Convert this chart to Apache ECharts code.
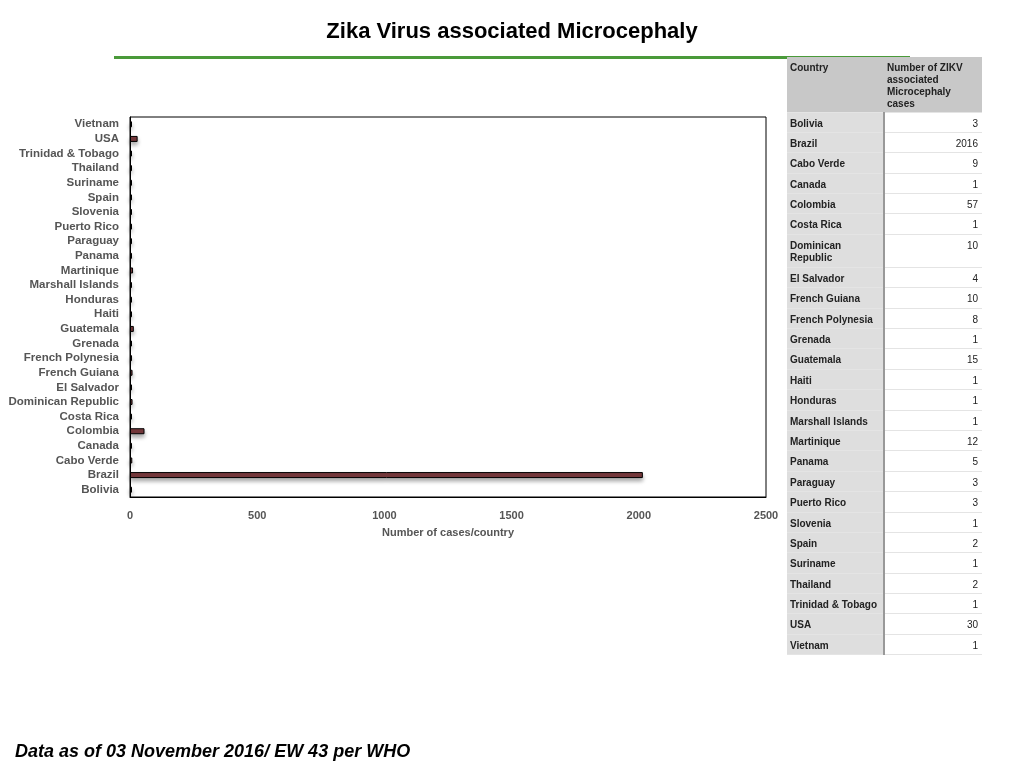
<!DOCTYPE html>
<html>
<head>
<meta charset="utf-8">
<script src="https://cdn.jsdelivr.net/npm/echarts@6/dist/echarts.min.js"></script>
<style>
  body { margin: 0; background: #fff; font-family: Arial, "Liberation Sans", sans-serif; }
  #chart { position: absolute; left: 0; top: 0; width: 1024px; height: 768px; }
  #tbl { position: absolute; left: 787px; top: 57px; border-collapse: collapse; font-size: 10px; font-weight: bold; color: #222; }
  #tbl td { border-bottom: 1px solid #e4e4e4; padding: 5px 4px 0 3px; vertical-align: top; height: 20.4px; box-sizing: border-box; line-height: 12px; }
  #tbl td.c { width: 97px; background: #dedede; border-right: 2px solid #999; }
  #tbl td.v { width: 98px; text-align: right; font-weight: normal; background: #fff; }
  #tbl tr.h td { background: #c8c8c8; height: 55px; font-weight: bold; text-align: left; border-right: none; }
  #tbl tr.t td { height: 33px; }
</style>
</head>
<body>
<div id="chart"></div>
<table id="tbl"></table>
<script>
// countries in table order (bottom to top on the chart)
const countries = ['Bolivia', 'Brazil', 'Cabo Verde', 'Canada', 'Colombia', 'Costa Rica',
  'Dominican Republic', 'El Salvador', 'French Guiana', 'French Polynesia', 'Grenada',
  'Guatemala', 'Haiti', 'Honduras', 'Marshall Islands', 'Martinique', 'Panama', 'Paraguay',
  'Puerto Rico', 'Slovenia', 'Spain', 'Suriname', 'Thailand', 'Trinidad & Tobago', 'USA', 'Vietnam'];
const cases = [3, 2016, 9, 1, 57, 1, 10, 4, 10, 8, 1, 15, 1, 1, 1, 12, 5, 3, 3, 1, 2, 1, 2, 1, 30, 1];

// table
const tbl = document.getElementById('tbl');
let html = '<tr class="h"><td class="c" style="background:#c8c8c8;border-right:none">Country</td><td class="v" style="font-weight:bold;text-align:left">Number of ZIKV associated Microcephaly cases</td></tr>';
countries.forEach((c, i) => {
  const tall = c === 'Dominican Republic' ? ' class="t"' : '';
  html += '<tr' + tall + '><td class="c">' + (c === 'Dominican Republic' ? 'Dominican<br>Republic' : c) +
    '</td><td class="v">' + cases[i] + '</td></tr>';
});
tbl.innerHTML = html;

const chart = echarts.init(document.getElementById('chart'));
chart.setOption({
  animation: false,
  title: [
    { text: 'Zika Virus associated Microcephaly', left: 'center', top: 16,
      textStyle: { fontSize: 22, fontWeight: 'bold', color: '#000', fontFamily: 'Arial' } },
    { text: 'Data as of 03 November 2016/ EW 43 per WHO', left: 10, top: 738,
      textStyle: { fontSize: 18, fontWeight: 'bold', fontStyle: 'italic', color: '#000', fontFamily: 'Arial' } }
  ],
  graphic: [
    { type: 'rect', shape: { x: 114, y: 56, width: 796, height: 3 }, style: { fill: '#4a9a3a' } }
  ],
  grid: { left: 130, right: 258, top: 117, bottom: 271, show: true, borderColor: '#000', borderWidth: 1 },
  xAxis: {
    type: 'value', min: 0, max: 2500, interval: 500,
    name: 'Number of cases/country', nameLocation: 'middle', nameGap: 30,
    nameTextStyle: { fontSize: 11, fontWeight: 'bold', color: '#555' },
    axisLine: { show: true, lineStyle: { color: '#000' } },
    axisTick: { show: false },
    splitLine: { show: false },
    axisLabel: { fontSize: 11, fontWeight: 'bold', color: '#555', margin: 13, formatter: v => String(v) }
  },
  yAxis: {
    type: 'category', data: countries,
    axisLine: { show: true, lineStyle: { color: '#000' } },
    axisTick: { show: false },
    axisLabel: { fontSize: 11.5, fontWeight: 'bold', color: '#555', margin: 11, interval: 0 }
  },
  series: [{
    type: 'bar', data: cases, barWidth: 6, barMinHeight: 2,
    itemStyle: { color: '#7b3b3e', borderColor: '#000', borderWidth: 1,
      shadowColor: 'rgba(0,0,0,0.35)', shadowBlur: 4, shadowOffsetY: 3 }
  }]
});
</script>
</body>
</html>
